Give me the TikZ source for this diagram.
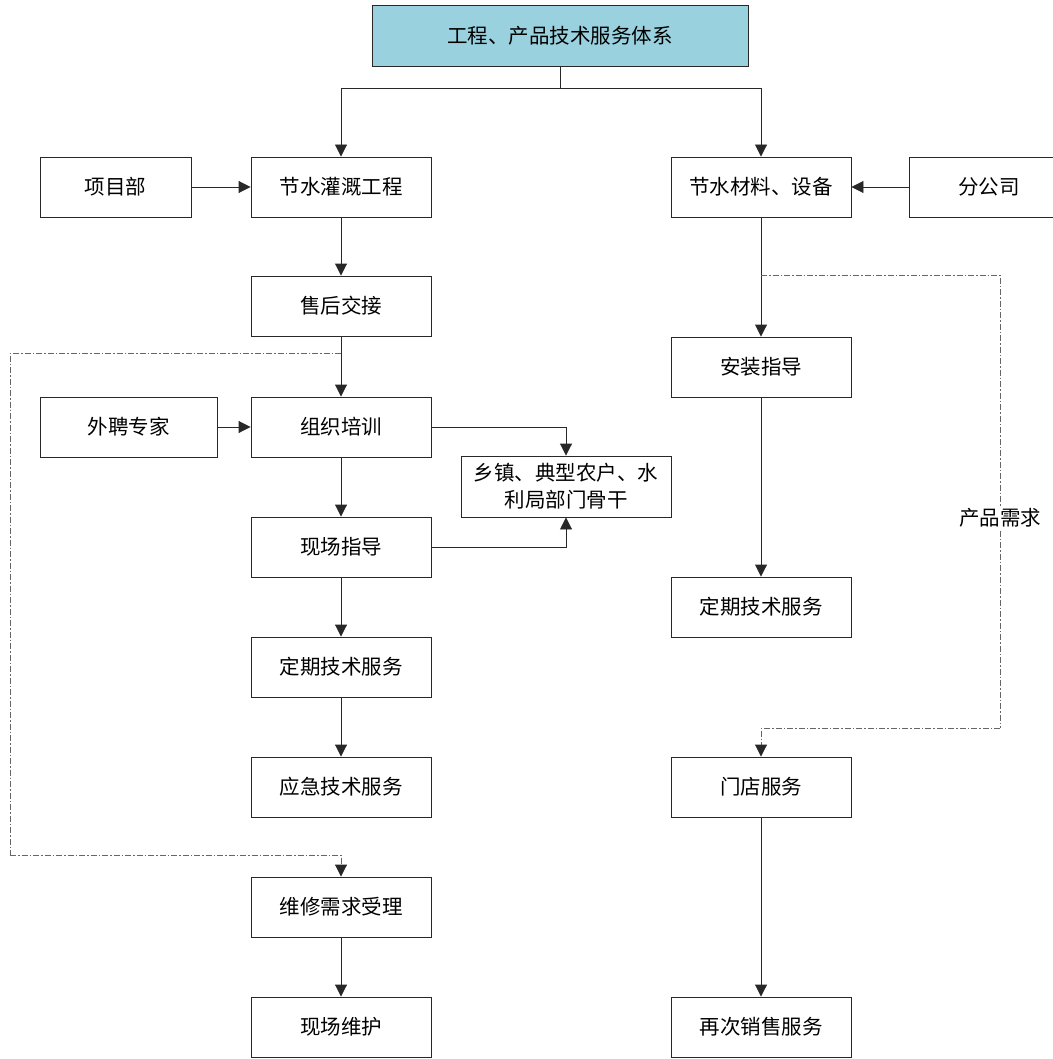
\documentclass[tikz,border=0pt]{standalone}
\usepackage{fontspec}
\newfontfamily\cjk{Noto Sans CJK SC}
\usetikzlibrary{arrows.meta}
\definecolor{topblue}{RGB}{153,209,222}
\definecolor{lineg}{RGB}{40,40,40}
\tikzset{
  box/.style={draw=lineg, line width=0.9pt, fill=white, minimum width=180pt, minimum height=60pt, inner sep=0pt, font=\cjk\fontsize{20.5}{27}\selectfont, align=center},
  arr/.style={draw=lineg, line width=0.9pt, -{Triangle[length=12pt,width=12pt]}},
  ln/.style={draw=lineg, line width=0.9pt},
  dd/.style={draw=gray!80!black, line width=0.9pt, dash pattern=on 6pt off 2pt on 1.5pt off 2pt},
  dda/.style={dd, -{Triangle[length=12pt,width=12pt,color=lineg]}},
  lbl/.style={fill=white, inner sep=2pt, font=\cjk\fontsize{20.5}{27}\selectfont}
}
\begin{document}
\begin{tikzpicture}[x=1pt,y=-1pt]
\useasboundingbox (0,0) rectangle (1052,1059);
% nodes
\node[box, fill=topblue, minimum width=376pt, minimum height=61pt] (top) at (560,35.5) {工程、产品技术服务体系};
\node[box] (jsgg) at (341,187) {节水灌溉工程};
\node[box, minimum width=151pt] (xmb) at (115.5,187) {项目部};
\node[box] (shjj) at (341,306) {售后交接};
\node[box] (zzpx) at (341,427) {组织培训};
\node[box, minimum width=177pt] (wpzj) at (128.5,427) {外聘专家};
\node[box, minimum width=210pt, minimum height=61pt] (xz) at (566,486.5) {乡镇、典型农户、水\\利局部门骨干};
\node[box] (xczd) at (341,547) {现场指导};
\node[box] (dq1) at (341,667) {定期技术服务};
\node[box] (yj) at (341,787) {应急技术服务};
\node[box] (wx) at (341,907) {维修需求受理};
\node[box] (xcwh) at (341,1027) {现场维护};
\node[box] (jscl) at (761,187) {节水材料、设备};
\node[box, minimum width=160pt] (fgs) at (989,187) {分公司};
\node[box] (az) at (761,367) {安装指导};
\node[box] (dq2) at (761,607) {定期技术服务};
\node[box] (md) at (761,787) {门店服务};
\node[box] (zc) at (761,1027) {再次销售服务};
% coordinates
\coordinate (j) at (top.south |- 0,88);
\coordinate (d1) at (341,353);
\coordinate (d1a) at (10,353);
\coordinate (d1b) at (10,855);
\coordinate (d2) at (761,275);
\coordinate (d2a) at (1000,275);
\coordinate (d2b) at (1000,728);
% connectors
\draw[ln] (top.south) -- (j);
\draw[arr] (j) -| (jsgg.north);
\draw[arr] (j) -| (jscl.north);
\draw[arr] (xmb.east) -- (jsgg.west);
\draw[arr] (jsgg.south) -- (shjj.north);
\draw[arr] (shjj.south) -- (zzpx.north);
\draw[arr] (wpzj.east) -- (zzpx.west);
\draw[arr] (zzpx.east) -| (xz.north);
\draw[arr] (xczd.east) -| (xz.south);
\draw[arr] (zzpx.south) -- (xczd.north);
\draw[arr] (xczd.south) -- (dq1.north);
\draw[arr] (dq1.south) -- (yj.north);
\draw[arr] (wx.south) -- (xcwh.north);
\draw[arr] (fgs.west) -- (jscl.east);
\draw[arr] (jscl.south) -- (az.north);
\draw[arr] (az.south) -- (dq2.north);
\draw[arr] (md.south) -- (zc.north);
\draw[dd] (d1) -- (d1a) -- (d1b);
\draw[dda] (d1b) -| (wx.north);
\draw[dd] (d2) -- (d2a) -- (d2b);
\draw[dda] (d2b) -| (md.north);
\node[lbl] (cpxq) at (1000,518) {产品需求};
\end{tikzpicture}
\end{document}
